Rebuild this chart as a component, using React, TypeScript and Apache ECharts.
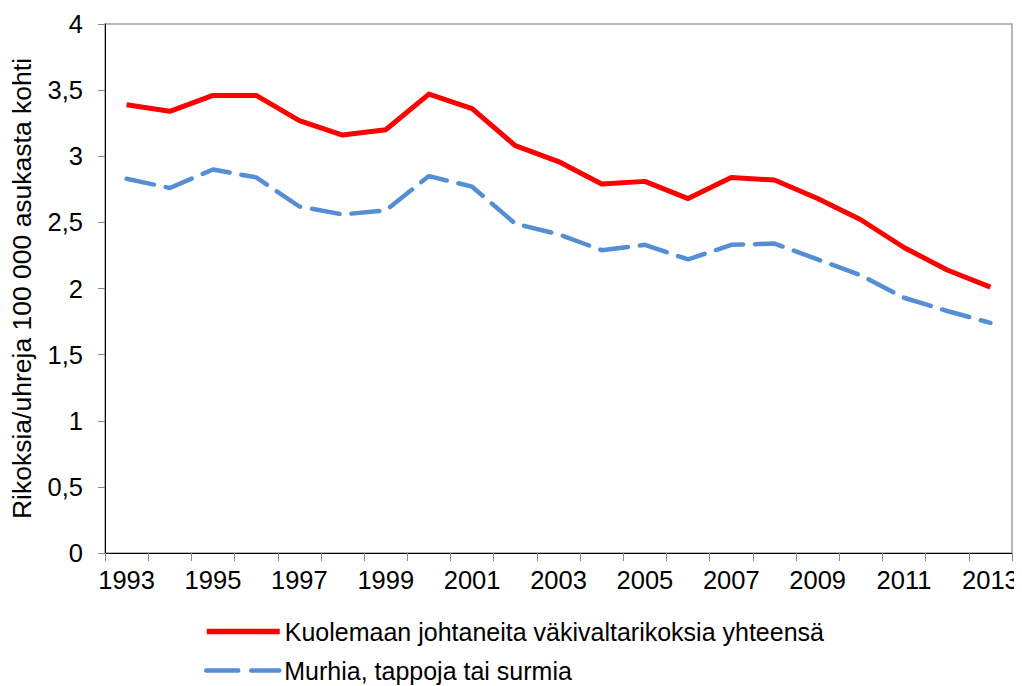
import React, { useEffect, useRef } from "react";
import * as echarts from "echarts";

const years = [
  "1993", "1994", "1995", "1996", "1997", "1998", "1999", "2000", "2001", "2002",
  "2003", "2004", "2005", "2006", "2007", "2008", "2009", "2010", "2011", "2012", "2013",
];
const totalName = "Kuolemaan johtaneita väkivaltarikoksia yhteensä";
const totalValues = [
  3.39, 3.34, 3.46, 3.46, 3.27, 3.16, 3.2, 3.47, 3.36, 3.08,
  2.96, 2.79, 2.81, 2.68, 2.84, 2.82, 2.68, 2.52, 2.31, 2.14, 2.01,
];
const murderName = "Murhia, tappoja tai surmia";
const murderValues = [
  2.83, 2.76, 2.9, 2.84, 2.62, 2.56, 2.59, 2.85, 2.77, 2.49,
  2.41, 2.29, 2.33, 2.22, 2.33, 2.34, 2.22, 2.1, 1.93, 1.83, 1.74,
];
const yAxisName = "Rikoksia/uhreja 100 000 asukasta kohti";

const FONT = "Liberation Sans, Arial, sans-serif";
const RED = "#ff0000";
const BLUE = "#558ed5";

const legendBase = {
  left: 204,
  padding: 0,
  itemWidth: 73,
  itemHeight: 14,
  itemStyle: { opacity: 0 },
  textStyle: { fontFamily: FONT, fontSize: 25, color: "#000" },
};

export default function App() {
  const ref = useRef<HTMLDivElement>(null);
  useEffect(() => {
    if (!ref.current) return;
    const chart = echarts.init(ref.current, null, { renderer: "svg" });
    chart.setOption({
      animation: false,
      backgroundColor: "#ffffff",
      textStyle: { fontFamily: FONT },
      grid: {
        left: 104,
        right: 10,
        top: 24,
        bottom: 133,
        show: true,
        borderColor: "#a0a0a0",
        borderWidth: 1.5,
        containLabel: false,
      },
      legend: [
        {
          ...legendBase,
          top: 619,
          data: [totalName],
          lineStyle: { color: RED, width: 5.5 },
        },
        {
          ...legendBase,
          top: 658,
          data: [murderName],
          lineStyle: { color: BLUE, width: 4.5, type: [32, 13] },
        },
      ],
      xAxis: {
        type: "category",
        data: years,
        boundaryGap: true,
        axisLine: { lineStyle: { color: "#000", width: 1 } },
        axisTick: { show: true, interval: 0, length: 8, lineStyle: { color: "#888" } },
        axisLabel: {
          interval: 1,
          fontSize: 25.5,
          color: "#000",
          margin: 14,
          fontFamily: FONT,
        },
        splitLine: { show: false },
      },
      yAxis: {
        type: "value",
        min: 0,
        max: 4,
        interval: 0.5,
        name: yAxisName,
        nameLocation: "middle",
        nameGap: 70,
        nameTextStyle: { fontSize: 26.5, color: "#000", fontFamily: FONT },
        axisLine: { show: true, lineStyle: { color: "#000", width: 1 } },
        axisTick: { show: true, inside: false, length: 7, lineStyle: { color: "#888" } },
        axisLabel: {
          fontSize: 25.5,
          color: "#000",
          margin: 22,
          fontFamily: FONT,
          formatter: (v: number) => String(v).replace(".", ","),
        },
        splitLine: { show: false },
      },
      series: [
        {
          name: totalName,
          type: "line",
          data: totalValues,
          symbol: "none",
          lineStyle: { color: RED, width: 5, join: "round" },
          itemStyle: { color: RED },
        },
        {
          name: murderName,
          type: "line",
          data: murderValues,
          symbol: "none",
          lineStyle: { color: BLUE, width: 4.5, type: [28, 12], cap: "round" },
          itemStyle: { color: BLUE },
        },
      ],
    });
    return () => chart.dispose();
  }, []);
  return <div ref={ref} style={{ width: 1022, height: 686, marginLeft: -8, marginTop: -8 }} />;
}
